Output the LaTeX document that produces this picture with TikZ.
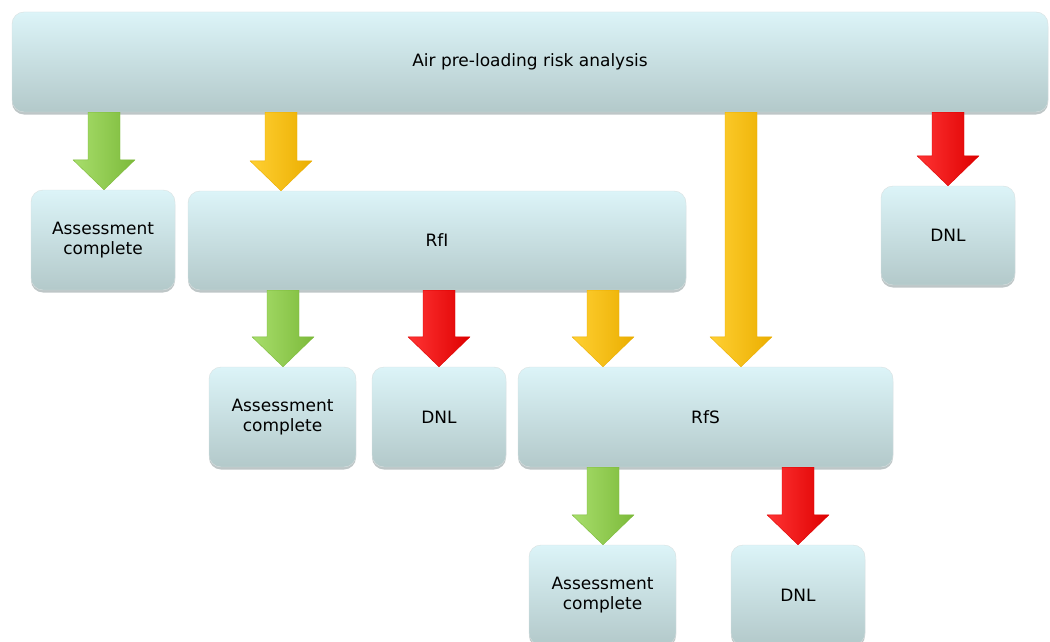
\documentclass[tikz,border=0pt]{standalone}
\usepackage{fontspec}
\setmainfont{DejaVu Sans}
\usetikzlibrary{calc,shadows}

\definecolor{boxtop}{HTML}{DCF4F8}
\definecolor{boxbot}{HTML}{B3C9CA}
\definecolor{boxedge}{HTML}{9DB3B5}
\definecolor{grn}{HTML}{92D050}
\definecolor{grnlight}{HTML}{A8DE6C}
\definecolor{grndark}{HTML}{7CBA3A}
\definecolor{ylw}{HTML}{FFC400}
\definecolor{ylwlight}{HTML}{FFD033}
\definecolor{ylwdark}{HTML}{EBAE00}
\definecolor{rd}{HTML}{FF0000}
\definecolor{rdlight}{HTML}{FF3434}
\definecolor{rddark}{HTML}{DE0000}

\tikzset{
  stagebox/.style={rounded corners=12pt, top color=boxtop, bottom color=boxbot,
    draw=boxedge!40, line width=0.4pt,
    drop shadow={shadow xshift=0pt, shadow yshift=-2.5pt, opacity=0.5, fill=boxedge!80!black},
    inner sep=0pt, align=center, font=\fontsize{17}{20.5}\selectfont},
}

% Block arrow: colour name, x position, source node, target node
\newcommand{\flowarrow}[4]{%
  \shade[left color=#1light, middle color=#1, right color=#1dark, draw=#1dark, line width=0.4pt, line join=round]
    let \p1=(#3.south), \p2=(#4.north) in
    ({#2pt-16pt},\y1) -- ({#2pt+16pt},\y1) -- ({#2pt+16pt},\y2+30pt) -- ({#2pt+31pt},\y2+30pt)
    -- ({#2pt},\y2) -- ({#2pt-31pt},\y2+30pt) -- ({#2pt-16pt},\y2+30pt) -- cycle;}

\begin{document}
\begin{tikzpicture}[x=1pt,y=-1pt]
\useasboundingbox[fill=white] (0,0) rectangle (1050,642);

% stage boxes
\node[stagebox, minimum width=1036pt, minimum height=100pt] (top) at (530,62) {Air pre-loading risk analysis};
\node[stagebox, minimum width=144pt, minimum height=100pt] (ac1) at (103,240) {Assessment\\complete};
\node[stagebox, minimum width=498pt, minimum height=99pt] (rfi) at (437,240.5) {RfI};
\node[stagebox, minimum width=134pt, minimum height=99pt] (dnl1) at (948,235.5) {DNL};
\node[stagebox, minimum width=147pt, minimum height=100pt] (ac2) at (282.5,417) {Assessment\\complete};
\node[stagebox, minimum width=134pt, minimum height=100pt] (dnl2) at (439,417) {DNL};
\node[stagebox, minimum width=375pt, minimum height=100pt] (rfs) at (705.5,417) {RfS};
\node[stagebox, minimum width=147pt, minimum height=100pt] (ac3) at (602.5,595) {Assessment\\complete};
\node[stagebox, minimum width=134pt, minimum height=100pt] (dnl3) at (798,595) {DNL};

% outcome arrows
\flowarrow{grn}{104}{top}{ac1}
\flowarrow{ylw}{281}{top}{rfi}
\flowarrow{ylw}{741}{top}{rfs}
\flowarrow{rd}{948}{top}{dnl1}
\flowarrow{grn}{283}{rfi}{ac2}
\flowarrow{rd}{439}{rfi}{dnl2}
\flowarrow{ylw}{603}{rfi}{rfs}
\flowarrow{grn}{603}{rfs}{ac3}
\flowarrow{rd}{798}{rfs}{dnl3}
\end{tikzpicture}
\end{document}
